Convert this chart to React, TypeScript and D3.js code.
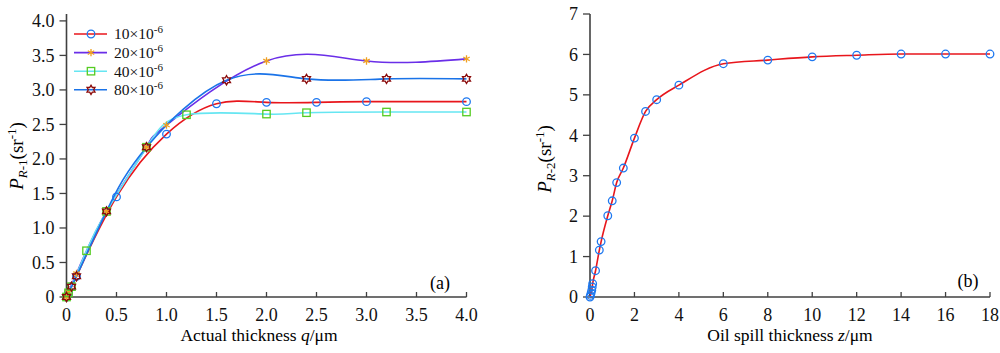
import React from 'react';
import * as d3 from 'd3';

// panel (a): P_R-1 vs actual thickness q, one series per concentration
const q10 = [0, 0.02, 0.05, 0.1, 0.5, 1.0, 1.5, 2.0, 2.5, 3.0, 4.0];
const p10 = [0, 0.06, 0.15, 0.3, 1.45, 2.36, 2.8, 2.82, 2.82, 2.83, 2.83];

const q20 = [0, 0.02, 0.1, 0.4, 0.8, 1.0, 2.0, 3.0, 4.0];
const p20 = [0, 0.07, 0.34, 1.24, 2.17, 2.49, 3.42, 3.42, 3.45];

const q40 = [0, 0.02, 0.05, 0.2, 0.4, 0.8, 1.2, 2.0, 2.4, 3.2, 4.0];
const p40 = [0, 0.06, 0.15, 0.67, 1.24, 2.17, 2.64, 2.65, 2.67, 2.68, 2.68];

const q80 = [0, 0.05, 0.1, 0.4, 0.8, 1.6, 2.4, 3.2, 4.0];
const p80 = [0, 0.15, 0.3, 1.24, 2.17, 3.14, 3.16, 3.16, 3.16];

const legendLabels = ['10', '20', '40', '80'];

// panel (b): P_R-2 vs oil spill thickness z
const zVals = [0, 0.02, 0.05, 0.08, 0.1, 0.12, 0.25, 0.42, 0.5, 0.8, 1.0, 1.2, 1.5, 2.0, 2.5, 3.0, 4.0, 6, 8, 10, 12, 14, 16, 18];
const pVals = [0, 0.04, 0.1, 0.17, 0.25, 0.33, 0.65, 1.16, 1.37, 2.01, 2.38, 2.83, 3.19, 3.93, 4.59, 4.88, 5.24, 5.77, 5.86, 5.94, 5.98, 6.01, 6.01, 6.01];

const xTicksA = [0, 0.5, 1.0, 1.5, 2.0, 2.5, 3.0, 3.5, 4.0];
const yTicksA = [0, 0.5, 1.0, 1.5, 2.0, 2.5, 3.0, 3.5, 4.0];
const xTicksB = [0, 2, 4, 6, 8, 10, 12, 14, 16, 18];
const yTicksB = [0, 1, 2, 3, 4, 5, 6, 7];

const FONT = '"Liberation Serif", "DejaVu Serif", serif';
const AXIS = '#404040';

const hexagram = (r: number) => {
  const pts: string[] = [];
  for (let i = 0; i < 12; i++) {
    const a = (Math.PI / 6) * i - Math.PI / 2;
    const rr = i % 2 === 0 ? r : r * 0.58;
    pts.push(`${(rr * Math.cos(a)).toFixed(2)},${(rr * Math.sin(a)).toFixed(2)}`);
  }
  return 'M' + pts.join('L') + 'Z';
};

function Marker({ kind, x, y }: { kind: string; x: number; y: number }) {
  if (kind === 'circle')
    return <circle cx={x} cy={y} r={3.8} fill="none" stroke="#1e78f0" strokeWidth={1.3} />;
  if (kind === 'star')
    return (
      <path
        transform={`translate(${x},${y})`}
        d={d3.symbol(d3.symbolAsterisk, 38)()!}
        fill="none"
        stroke="#f0a020"
        strokeWidth={1.3}
      />
    );
  if (kind === 'square')
    return <rect x={x - 3.7} y={y - 3.7} width={7.4} height={7.4} fill="none" stroke="#55cc22" strokeWidth={1.3} />;
  return <path transform={`translate(${x},${y})`} d={hexagram(4.6)} fill="none" stroke="#8b0a0a" strokeWidth={1.3} />;
}

export default function App() {
  const xA = d3.scaleLinear().domain([0, 4]).range([66.5, 466.5]);
  const yA = d3.scaleLinear().domain([0, 4.1]).range([297, 14]);
  const xB = d3.scaleLinear().domain([0, 18]).range([590, 990]);
  const yB = d3.scaleLinear().domain([0, 7]).range([297, 14]);

  const seriesA = [
    { q: q10, p: p10, color: '#e8161c', marker: 'circle' },
    { q: q20, p: p20, color: '#6a2ee8', marker: 'star' },
    { q: q40, p: p40, color: '#66e6f2', marker: 'square' },
    { q: q80, p: p80, color: '#1a73e8', marker: 'hex' },
  ];

  const lineA = d3
    .line<[number, number]>()
    .x((d) => xA(d[0]))
    .y((d) => yA(d[1]))
    .curve(d3.curveNatural);

  const lineB = d3
    .line<[number, number]>()
    .x((d) => xB(d[0]))
    .y((d) => yB(d[1]))
    .curve(d3.curveMonotoneX);

  const ptsB = zVals.map((z, i) => [z, pVals[i]] as [number, number]);

  const axes = (
    x: d3.ScaleLinear<number, number>,
    y: d3.ScaleLinear<number, number>,
    xt: number[],
    yt: number[],
    fmt: (v: number) => string
  ) => {
    const [x0, x1] = x.range();
    const [y0, y1] = y.range();
    return (
      <g fontFamily={FONT} fontSize={18} fill="#111">
        <line x1={x0} x2={x0} y1={y0} y2={y1} stroke={AXIS} strokeWidth={1.6} />
        <line x1={x0} x2={x1} y1={y0} y2={y0} stroke={AXIS} strokeWidth={1.6} />
        {yt.map((v) => (
          <g key={'y' + v}>
            <line x1={x0 - 7} x2={x0} y1={y(v)} y2={y(v)} stroke={AXIS} strokeWidth={1.3} />
            <text x={x0 - 12} y={y(v)} dy="0.35em" textAnchor="end">
              {fmt(v)}
            </text>
          </g>
        ))}
        {xt.map((v) => (
          <g key={'x' + v}>
            <line x1={x(v)} x2={x(v)} y1={y0} y2={y0 - 5} stroke={AXIS} strokeWidth={1.3} />
            <text x={x(v)} y={y0 + 24} textAnchor="middle">
              {fmt(v)}
            </text>
          </g>
        ))}
      </g>
    );
  };

  const fmtA = (v: number) => (v === 0 ? '0' : d3.format('.1f')(v));
  const fmtB = (v: number) => String(v);

  return (
    <svg width={1000} height={353} style={{ position: 'absolute', left: 0, top: 0, background: '#fff' }}>
      {/* panel (a) */}
      {axes(xA, yA, xTicksA, yTicksA, fmtA)}
      {seriesA.map((s, i) => (
        <path
          key={'l' + i}
          d={lineA(s.q.map((q, j) => [q, s.p[j]] as [number, number]))!}
          fill="none"
          stroke={s.color}
          strokeWidth={1.6}
        />
      ))}
      {seriesA.map((s, i) => (
        <g key={'m' + i}>
          {s.q.map((q, j) => (
            <Marker key={j} kind={s.marker} x={xA(q)} y={yA(s.p[j])} />
          ))}
        </g>
      ))}
      {/* legend */}
      <g fontFamily={FONT} fontSize={15.5} fill="#111">
        {seriesA.map((s, i) => {
          const ly = 34 + i * 18.6;
          return (
            <g key={'lg' + i}>
              <line x1={74} x2={107} y1={ly} y2={ly} stroke={s.color} strokeWidth={1.6} />
              <Marker kind={s.marker} x={91} y={ly} />
              <text x={114} y={ly} dy="0.35em">
                {legendLabels[i]}×10
                <tspan dy={-6} fontSize={11}>
                  -6
                </tspan>
              </text>
            </g>
          );
        })}
      </g>
      <text x={440} y={289} fontFamily={FONT} fontSize={18} textAnchor="middle">
        (a)
      </text>
      <text x={259} y={341} fontFamily={FONT} fontSize={17.5} textAnchor="middle">
        Actual thickness <tspan fontStyle="italic">q</tspan>/μm
      </text>
      <text transform="translate(23,156) rotate(-90)" fontFamily={FONT} fontSize={19} textAnchor="middle">
        <tspan fontStyle="italic">P</tspan>
        <tspan dy={4} fontSize={13}>
          <tspan fontStyle="italic">R</tspan>-1
        </tspan>
        <tspan dy={-4}>(sr</tspan>
        <tspan dy={-7} fontSize={13}>
          -1
        </tspan>
        <tspan dy={7}>)</tspan>
      </text>

      {/* panel (b) */}
      {axes(xB, yB, xTicksB, yTicksB, fmtB)}
      <path d={lineB(ptsB)!} fill="none" stroke="#e8161c" strokeWidth={1.6} />
      {ptsB.map((d, i) => (
        <Marker key={'b' + i} kind="circle" x={xB(d[0])} y={yB(d[1])} />
      ))}
      <text x={968} y={287} fontFamily={FONT} fontSize={18} textAnchor="middle">
        (b)
      </text>
      <text x={790} y={341} fontFamily={FONT} fontSize={17.5} textAnchor="middle">
        Oil spill thickness <tspan fontStyle="italic">z</tspan>/μm
      </text>
      <text transform="translate(551,159) rotate(-90)" fontFamily={FONT} fontSize={19} textAnchor="middle">
        <tspan fontStyle="italic">P</tspan>
        <tspan dy={4} fontSize={13}>
          <tspan fontStyle="italic">R</tspan>-2
        </tspan>
        <tspan dy={-4}>(sr</tspan>
        <tspan dy={-7} fontSize={13}>
          -1
        </tspan>
        <tspan dy={7}>)</tspan>
      </text>
    </svg>
  );
}
